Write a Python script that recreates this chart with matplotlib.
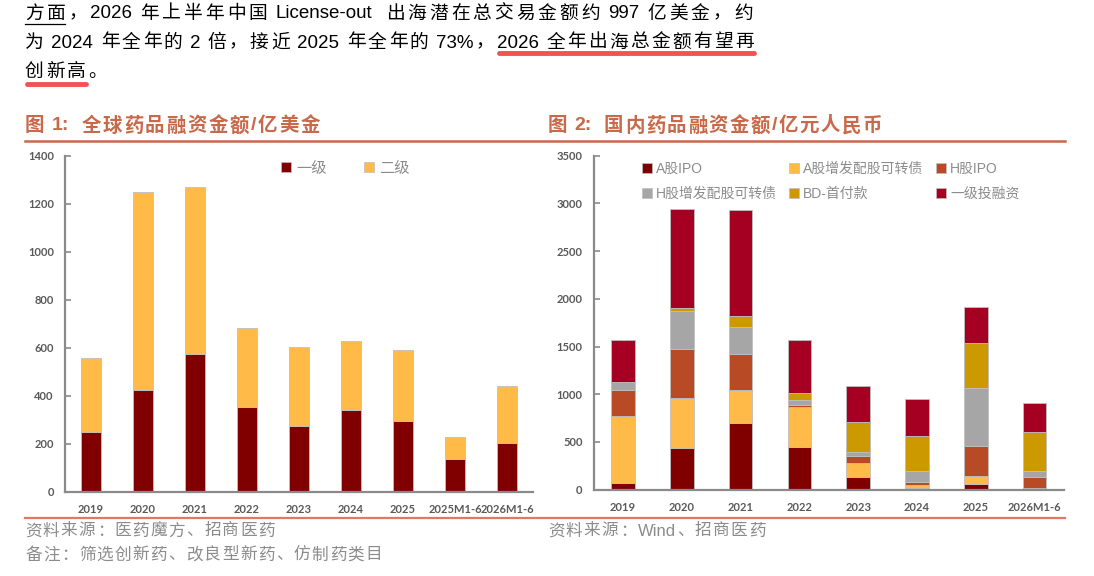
import matplotlib
matplotlib.use("Agg")
import matplotlib.pyplot as plt
from matplotlib.lines import Line2D

plt.rcParams["font.family"] = ["Liberation Sans", "Noto Sans CJK SC"]
plt.rcParams["axes.unicode_minus"] = False

# 图1 全球药品融资金额（亿美金）
years_l = ["2019", "2020", "2021", "2022", "2023", "2024", "2025", "2025M1-6", "2026M1-6"]
yiji_l = [250, 422, 574, 353, 274, 340, 293, 136, 202]
erji_l = [308, 825, 697, 328, 329, 289, 295, 91, 237]

# 图2 国内药品融资金额（亿元人民币）
years_r = ["2019", "2020", "2021", "2022", "2023", "2024", "2025", "2026M1-6"]
a_ipo = [73, 434, 702, 447, 136, 21, 60, 0]
a_zf = [696, 524, 343, 416, 144, 31, 80, 21]
h_ipo = [279, 516, 374, 28, 73, 26, 321, 115]
h_zf = [81, 399, 286, 46, 42, 121, 608, 57]
bd_pay = [0, 31, 118, 80, 311, 367, 468, 408]
yiji_r = [440, 1037, 1105, 552, 384, 381, 381, 304]

W, H = 1094, 576
fig = plt.figure(figsize=(W / 100, H / 100), dpi=100)
rend = fig.canvas.get_renderer()

TITLE_C = "#C8694A"
GRAY_T = "#8C8C8C"
TICK_C = "#595959"
SPINE_C = "#8A8A8A"


def fx(px):
    return px / W


def fy(py):
    return 1 - py / H


def tw(s, **kw):
    t = fig.text(0, 0, s, **kw)
    w = t.get_window_extent(rend).width
    t.remove()
    return w


def split_tokens(s):
    # 英文数字连成一个词，中文逐字
    out, buf = [], ""
    for ch in s:
        if ch.isascii() and ch != " ":
            buf += ch
        else:
            if buf:
                out.append(buf)
                buf = ""
            out.append(ch)
    if buf:
        out.append(buf)
    return out


def tracked(x, y, s, right=None, extra=0.0, **kw):
    """逐字排版（两端对齐），空格不加字距，返回每个词/字的左右像素位置"""
    toks = split_tokens(s)
    base = tw("中中", **kw)
    pos = [tw("中" + "".join(toks[:i]) + "中", **kw) - base for i in range(len(toks) + 1)]
    gaps = [0]
    for tok in toks[:-1]:
        gaps.append(gaps[-1] + (0 if tok == " " else 1))
    if right is not None:
        extra = (right - x - pos[-1]) / max(gaps[-1], 1)
    spans = []
    for i, tok in enumerate(toks):
        xi = x + pos[i] + extra * gaps[i]
        if tok != " ":
            fig.text(fx(xi), fy(y), tok, ha="left", va="center", **kw)
        spans.append((xi, xi + pos[i + 1] - pos[i]))
    return toks, spans, extra


def uline(x0, x1, y, **kw):
    fig.add_artist(Line2D([fx(x0), fx(x1)], [fy(y), fy(y)], **kw))


# ---- 正文段落 ----
pk = dict(fontsize=13.5, color="black")
line1 = "方面，2026 年上半年中国 License-out  出海潜在总交易金额约 997 亿美金，约"
line2 = "为 2024 年全年的 2 倍，接近 2025 年全年的 73%，2026 全年出海总金额有望再"
line3 = "创新高。"
t1, sp1, _ = tracked(25, 14, line1, right=753, **pk)
t2, sp2, ex2 = tracked(25, 43, line2, right=754, **pk)
t3, sp3, _ = tracked(25, 72, line3, extra=ex2, **pk)
uline(sp1[0][0], sp1[1][1], 24, color="black", lw=0.9)
k = len(t2) - 1 - t2[::-1].index("2026")
red = dict(color="#F25252", lw=3.5, solid_capstyle="round")
uline(sp2[k][0] + 2, sp2[-1][1], 53, **red)
uline(sp3[0][0] + 2, sp3[2][1], 84, **red)

# ---- 标题与分隔线 ----
tk = dict(fontsize=14, color=TITLE_C, fontweight="bold")
tracked(25, 126, "图 1:  全球药品融资金额/亿美金", right=320, **tk)
tracked(548, 126, "图 2:  国内药品融资金额/亿元人民币", right=882, **tk)
uline(25, 1065, 141, color=TITLE_C, lw=1.8)
uline(25, 1065, 518, color="#E07A5F", lw=1.6)

sk = dict(fontsize=12, color=GRAY_T)
tracked(25, 531, "资料来源：医药魔方、招商医药", extra=1.3, **sk)
tracked(25, 555, "备注：筛选创新药、改良型新药、仿制药类目", extra=1.3, **sk)
tracked(548, 531, "资料来源：Wind、招商医药", extra=1.3, **sk)


def style_axis(ax, labels):
    for s in ["top", "right"]:
        ax.spines[s].set_visible(False)
    for s in ["left", "bottom"]:
        ax.spines[s].set_color(SPINE_C)
        ax.spines[s].set_linewidth(1.6)
    ax.set_xticks(range(len(labels)))
    ax.set_xticklabels(labels)
    ax.tick_params(axis="y", direction="in", length=4, width=1.2, color=SPINE_C,
                   labelsize=8, labelcolor=TICK_C, pad=8)
    ax.tick_params(axis="x", length=0, labelsize=8, labelcolor=TICK_C, pad=9)
    for t in ax.get_xticklabels() + ax.get_yticklabels():
        t.set_fontfamily("Lato")
        t.set_fontweight("bold")
    ax.set_xlim(-0.5, len(labels) - 0.5)


bw = 0.4
edge = dict(edgecolor="#BFBFBF", linewidth=0.6)

# ---- 图1 ----
ax1 = fig.add_axes([fx(65), fy(491.5), fx(533 - 65), (491.5 - 155.7) / H])
x1 = range(len(years_l))
ax1.bar(x1, yiji_l, bw, color="#800000", label="一级", **edge)
ax1.bar(x1, erji_l, bw, bottom=yiji_l, color="#FFBA47", label="二级", **edge)
ax1.set_ylim(0, 1400)
ax1.set_yticks(range(0, 1401, 200))
style_axis(ax1, years_l)

h1 = [Line2D([], [], marker="s", ls="", color=c, markersize=7, markeredgecolor="#BFBFBF",
             markeredgewidth=0.5) for c in ["#800000", "#FFBA47"]]
ax1.legend(h1, ["一级", "二级"], ncol=2, frameon=False, loc="upper left",
           bbox_to_anchor=(fx(281), fy(161)), bbox_transform=fig.transFigure,
           borderaxespad=0, borderpad=0, handlelength=0.7, handletextpad=0.3,
           columnspacing=2.4, labelcolor=GRAY_T, prop={"size": 11})

# ---- 图2 ----
ax2 = fig.add_axes([fx(593.7), fy(489.7), fx(1064 - 593.7), (489.7 - 155.7) / H])
x2 = range(len(years_r))
series = [
    ("A股IPO", a_ipo, "#800000"),
    ("A股增发配股可转债", a_zf, "#FFBA47"),
    ("H股IPO", h_ipo, "#B94A26"),
    ("H股增发配股可转债", h_zf, "#A6A6A6"),
    ("BD-首付款", bd_pay, "#CC9900"),
    ("一级投融资", yiji_r, "#A50021"),
]
bottom = [0] * len(years_r)
for name, vals, c in series:
    ax2.bar(x2, vals, bw, bottom=bottom, color=c, label=name, **edge)
    bottom = [b + v for b, v in zip(bottom, vals)]
ax2.set_ylim(0, 3500)
ax2.set_yticks(range(0, 3501, 500))
style_axis(ax2, years_r)

order = [0, 3, 1, 4, 2, 5]
h2 = [Line2D([], [], marker="s", ls="", color=series[i][2], markersize=7,
             markeredgecolor="#BFBFBF", markeredgewidth=0.5) for i in order]
ax2.legend(h2, [series[i][0] for i in order], ncol=3, frameon=False, loc="upper left",
           bbox_to_anchor=(fx(642), fy(162)), bbox_transform=fig.transFigure,
           borderaxespad=0, borderpad=0, handlelength=0.7, handletextpad=0.3,
           columnspacing=0.9, labelspacing=0.8, labelcolor=GRAY_T, prop={"size": 10})

fig.savefig("out.png", dpi=100)
